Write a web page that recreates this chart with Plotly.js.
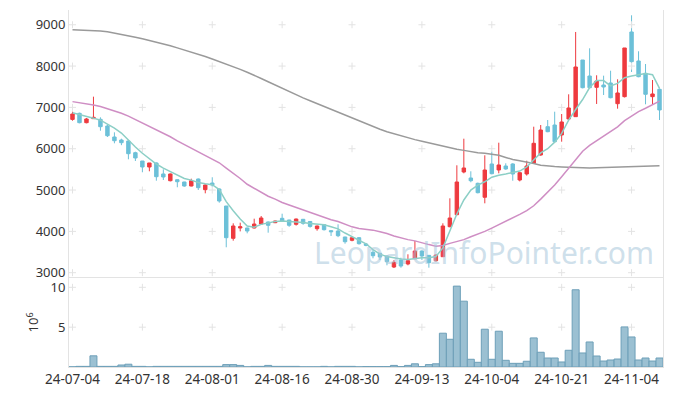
<!DOCTYPE html>
<html><head><meta charset="utf-8">
<script src="https://cdn.plot.ly/plotly-3.0.1.min.js"></script>
<style>html,body{margin:0;padding:0;background:#fff}#chart{width:673px;height:396px}</style>
</head><body><div id="chart"></div>
<script>
var dates = ["24-07-04","24-07-05","24-07-08","24-07-09","24-07-10","24-07-11","24-07-12","24-07-15","24-07-16","24-07-17",
"24-07-18","24-07-19","24-07-22","24-07-23","24-07-24","24-07-25","24-07-26","24-07-29","24-07-30","24-07-31",
"24-08-01","24-08-02","24-08-05","24-08-06","24-08-07","24-08-08","24-08-09","24-08-12","24-08-13","24-08-14",
"24-08-16","24-08-19","24-08-20","24-08-21","24-08-22","24-08-23","24-08-26","24-08-27","24-08-28","24-08-29",
"24-08-30","24-09-02","24-09-03","24-09-04","24-09-05","24-09-06","24-09-09","24-09-10","24-09-11","24-09-12",
"24-09-13","24-09-19","24-09-20","24-09-23","24-09-24","24-09-25","24-09-26","24-09-27","24-09-30","24-10-02",
"24-10-04","24-10-07","24-10-08","24-10-10","24-10-11","24-10-14","24-10-15","24-10-16","24-10-17","24-10-18",
"24-10-21","24-10-22","24-10-23","24-10-24","24-10-25","24-10-28","24-10-29","24-10-30","24-10-31","24-11-01",
"24-11-04","24-11-05","24-11-06","24-11-07","24-11-08"];

var openP = [6710,6857,6630,6727,6712,6550,6284,6211,6187,5904,
5703,5558,5655,5389,5226,5250,5195,5098,5267,5009,
5170,5025,4614,3832,4082,4082,4082,4178,4227,4210,
4316,4275,4171,4292,4240,4065,4162,4017,4009,3864,
3784,3847,3694,3494,3469,3404,3138,3307,3211,3339,
3525,3420,3290,3387,4113,4404,5437,5292,5163,4825,
5631,5486,5582,5631,5243,5389,5647,5848,6533,6574,
6332,6720,6776,8147,7760,7486,7542,7591,7090,7260,
8825,8123,7825,7260,7438];
var highP = [6896,6872,6744,7260,6760,6591,6397,6243,6211,5928,
5703,5655,5670,5502,5400,5260,5200,5275,5280,5140,
5309,5040,4614,4195,4211,4090,4307,4372,4240,4260,
4428,4280,4310,4300,4250,4140,4175,4030,4171,3870,
3850,3860,3720,3549,3475,3410,3307,3363,3445,3767,
3540,3425,3440,4195,4800,5599,6243,5454,5180,5841,
5928,6146,5647,5650,5430,5710,6533,6574,6695,6896,
6840,7317,8825,8147,8430,7777,7768,7888,7680,8438,
9229,8358,8050,7663,7460];
var lowP = [6678,6615,6615,6720,6436,6284,6131,6086,5744,5703,
5430,5454,5226,5243,5210,5067,5081,5090,5001,4921,
5081,4694,3615,3775,4000,3953,4070,4170,3968,4200,
4230,4110,4140,4160,4090,4017,4020,3888,3860,3702,
3760,3680,3640,3348,3307,3179,3113,3121,3179,3330,
3307,3121,3270,3380,4100,4390,5405,5188,4920,4679,
5380,5405,5490,5226,5210,5350,5640,5830,6400,6150,
6170,6700,6770,7460,7460,7083,7300,7220,6969,7240,
7857,7730,7075,7058,6695];
var closeP = [6840,6630,6720,6760,6533,6315,6194,6146,5880,5776,
5558,5655,5323,5316,5389,5202,5098,5226,5057,5122,
5122,4735,3847,4130,4113,4009,4178,4324,4147,4251,
4243,4147,4299,4195,4120,4130,4041,3992,3895,3750,
3847,3702,3663,3411,3380,3267,3251,3162,3290,3525,
3404,3243,3428,4130,4324,5195,5534,5226,4936,5485,
5396,5607,5510,5389,5420,5582,6131,6453,6412,6170,
6647,6986,7978,7477,7477,7639,7494,7235,7349,8438,
8107,7743,7317,7325,6938];

var ma5 = [6870,6830,6780,6740,6690,6595,6500,6380,6200,6040,
5890,5760,5630,5530,5450,5370,5280,5240,5185,5150,
5130,5010,4720,4500,4300,4130,4100,4170,4210,4240,
4250,4240,4225,4215,4190,4170,4160,4110,4060,3960,
3880,3800,3700,3560,3450,3390,3360,3330,3320,3340,
3360,3360,3390,3600,4000,4420,4760,5000,5120,5200,
5310,5360,5390,5420,5460,5560,5730,5900,6000,6160,
6370,6690,6950,7190,7480,7650,7650,7520,7580,7720,
7760,7790,7820,7790,7460];
var ma20 = [7140,7115,7090,7060,7020,6970,6910,6860,6790,6710,
6630,6550,6460,6380,6290,6190,6100,6010,5940,5850,
5750,5660,5530,5410,5280,5140,5040,4930,4850,4780,
4700,4640,4580,4520,4460,4400,4330,4280,4240,4170,
4110,4070,4050,4030,3990,3950,3890,3840,3800,3770,
3720,3680,3640,3660,3710,3750,3800,3870,3930,4000,
4080,4160,4240,4320,4410,4500,4620,4780,4950,5120,
5320,5530,5740,5940,6080,6190,6300,6400,6530,6680,
6800,6900,6980,7070,7150];
var ma60 = [8880,8875,8870,8860,8850,8830,8800,8770,8730,8700,
8660,8620,8580,8540,8490,8440,8390,8340,8290,8230,
8170,8110,8050,7990,7920,7850,7780,7700,7620,7540,
7460,7380,7300,7230,7160,7090,7020,6950,6880,6810,
6740,6670,6600,6530,6470,6410,6360,6310,6260,6220,
6180,6140,6100,6060,6020,5990,5960,5930,5905,5890,
5870,5840,5790,5740,5710,5680,5640,5600,5580,5570,
5560,5550,5540,5535,5535,5540,5545,5550,5555,5560,
5570,5580,5585,5590,5590];

var volume = [0.02,0.08,0.08,1.4,0.08,0.08,0.08,0.25,0.35,0.08,
0.08,0.02,0.08,0.08,0.08,0.08,0.08,0.08,0.08,0.08,
0.08,0.08,0.3,0.3,0.2,0.02,0.08,0.08,0.2,0.08,
0.08,0.08,0.08,0.02,0.02,0.02,0.08,0.02,0.08,0.08,
0.08,0.02,0.05,0.05,0.05,0.05,0.2,0.05,0.2,0.4,
0.05,0.3,0.4,4.24,3.48,10.15,8.26,0.97,0.59,4.74,
0.97,4.49,0.84,0.46,0.46,0.72,3.65,1.85,1.13,1.13,
0.63,2.1,9.69,1.76,3.14,1.38,0.75,0.88,1.0,5.03,
3.77,0.88,1.13,0.75,1.13];

var priceTicks = [3000,4000,5000,6000,7000,8000,9000];
var volTicks = [5,10];
var xTickIdx = [0,10,20,30,40,50,60,70,80];
var xTickLabels = xTickIdx.map(function(i){return dates[i];});

var font = "'Noto Sans', 'DejaVu Sans', sans-serif";
var red = '#ee3a3f', blue = '#6cc0d8';

var cx = [], cy = [], cx2 = [], cy2 = [];
xTickIdx.forEach(function(i){
  priceTicks.forEach(function(p){cx.push(dates[i]); cy.push(p);});
  volTicks.forEach(function(v){cx2.push(dates[i]); cy2.push(v);});
});

var traces = [
  {type:'scatter', mode:'markers', x:cx, y:cy, xaxis:'x', yaxis:'y', hoverinfo:'skip',
   marker:{symbol:'cross-thin', size:5, line:{color:'#e3e3e3', width:1}}},
  {type:'scatter', mode:'markers', x:cx2, y:cy2, xaxis:'x', yaxis:'y2', hoverinfo:'skip',
   marker:{symbol:'cross-thin', size:5, line:{color:'#e3e3e3', width:1}}},
  {type:'scatter', mode:'lines', x:dates, y:ma60, xaxis:'x', yaxis:'y', line:{color:'#9a9a9a', width:1.5}},
  {type:'scatter', mode:'lines', x:dates, y:ma20, xaxis:'x', yaxis:'y', line:{color:'#cf8ec4', width:1.5}},
  {type:'candlestick', x:dates, open:openP, high:highP, low:lowP, close:closeP, xaxis:'x', yaxis:'y',
   increasing:{line:{color:red, width:1}, fillcolor:red},
   decreasing:{line:{color:blue, width:1}, fillcolor:blue}},
  {type:'scatter', mode:'lines', x:dates, y:ma5, xaxis:'x', yaxis:'y', line:{color:'#8ccfc6', width:1.5}},
  {type:'bar', x:dates, y:volume, xaxis:'x', yaxis:'y2',
   marker:{color:'#9bc0d2', line:{color:'#6d9fb8', width:1}}}
];

var layout = {
  width:673, height:396,
  margin:{l:69, r:10, t:10, b:29},
  paper_bgcolor:'#fff', plot_bgcolor:'#fff',
  showlegend:false,
  bargap:0,
  font:{family:font, size:13, color:'#333'},
  xaxis:{type:'category', categoryorder:'array', categoryarray:dates,
    anchor:'y2', range:[-0.5,84.5], rangeslider:{visible:false},
    tickmode:'array', tickvals:xTickLabels, ticktext:xTickLabels,
    showgrid:false, zeroline:false, showline:true, linecolor:'#e3e3e3', mirror:true,
    ticks:'', tickfont:{size:13.5, color:'#333'}},
  yaxis:{domain:[0.2521,1], range:[2896,9357], tickvals:priceTicks,
    showgrid:false, zeroline:false, showline:true, linecolor:'#e3e3e3', mirror:true,
    ticks:'', tickfont:{size:13, color:'#333'}},
  yaxis2:{domain:[0,0.25], range:[0,11.2], tickvals:volTicks,
    showgrid:false, zeroline:false, showline:true, linecolor:'#e3e3e3', mirror:true,
    ticks:'', tickfont:{size:13, color:'#333'},
    title:{text:'10<sup>6</sup>', font:{size:13, color:'#333'}, standoff:8}},
  annotations:[{text:'LeopardInfoPointer.com', xref:'paper', yref:'paper', x:0.699, y:0.322,
    xanchor:'center', yanchor:'middle',
    showarrow:false, font:{family:font, size:30, color:'rgba(165,198,218,0.55)'}}]
};

Plotly.newPlot('chart', traces, layout, {displayModeBar:false, staticPlot:true});
</script></body></html>
